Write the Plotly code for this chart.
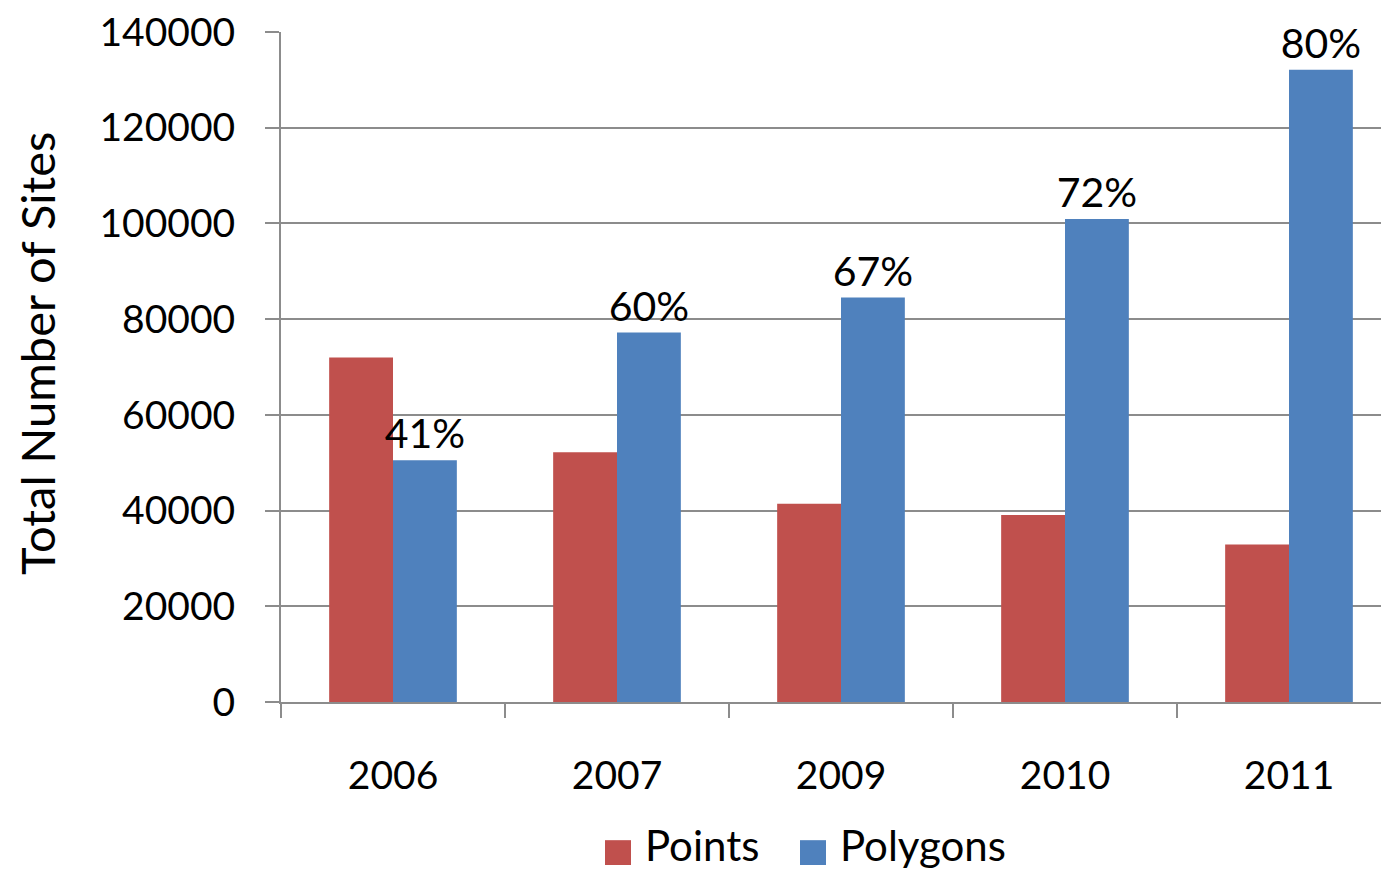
import plotly.graph_objects as go

years = ["2006", "2007", "2009", "2010", "2011"]
points = [72000, 52200, 41400, 39100, 32900]
polygons = [50500, 77200, 84500, 100900, 132100]
poly_pct = ["41%", "60%", "67%", "72%", "80%"]
series_names = ["Points", "Polygons"]
colors = ["#C0504D", "#4F81BD"]
y_ticks = [0, 20000, 40000, 60000, 80000, 100000, 120000, 140000]

# page has an 8px body margin; size the figure so it fits the 1389x874 window
OFF = 8
W, H = 1389 - OFF, 874 - OFF
L, R, T, B = 281 - OFF, 0, 28 - OFF, 172
FONT = "Lato"
FS = 39
GRID = "#8C8C8C"

pw, ph = W - L - R, H - T - B


def px_x(px):
    return (px - OFF - L) / pw


def px_y(py):
    return (T + ph - (py - OFF)) / ph


fig = go.Figure()
fig.add_trace(go.Bar(x=years, y=points, name=series_names[0], marker=dict(color=colors[0], line=dict(width=0)),
                     showlegend=False))
fig.add_trace(go.Bar(x=years, y=polygons, name=series_names[1], marker=dict(color=colors[1], line=dict(width=0)),
                     text=poly_pct, textposition="outside", constraintext="none", cliponaxis=False,
                     textfont=dict(family=FONT, size=41, color="black"), showlegend=False))

fig.update_layout(
    width=W, height=H,
    margin=dict(l=L, r=R, t=T, b=B),
    paper_bgcolor="white", plot_bgcolor="white",
    barmode="group", bargap=0.43, bargroupgap=0,
    font=dict(family=FONT, size=FS, color="black"),
    showlegend=False,
)
fig.update_xaxes(
    type="category", range=[-0.5, -0.5 + pw / 224.0],
    tickson="boundaries", ticks="outside", ticklen=14, tickwidth=2, tickcolor=GRID,
    showline=True, linecolor=GRID, linewidth=2, showgrid=False,
    ticklabelstandoff=38, tickfont=dict(family=FONT, size=FS, color="black"),
)
fig.update_yaxes(
    range=[0, 140000], tickvals=y_ticks, ticktext=[str(v) for v in y_ticks],
    ticks="outside", ticklen=14, tickwidth=2, tickcolor=GRID,
    showline=True, linecolor=GRID, linewidth=2,
    showgrid=True, gridcolor=GRID, gridwidth=2, zeroline=False,
    ticklabelstandoff=22, ticklabeloverflow="allow",
    tickfont=dict(family=FONT, size=FS, color="black"),
)

# y-axis title
fig.add_annotation(text="Total Number of Sites", xref="paper", yref="paper",
                   x=px_x(37), y=px_y(352), textangle=-90, showarrow=False,
                   xanchor="center", yanchor="middle", font=dict(family=FONT, size=47, color="black"))

# manual legend
leg = [(605, 643), (800, 838)]
for (sx, tx), name, col in zip(leg, series_names, colors):
    fig.add_shape(type="rect", xref="paper", yref="paper",
                  x0=px_x(sx), x1=px_x(sx + 26), y0=px_y(866), y1=px_y(841),
                  fillcolor=col, line=dict(width=0))
    fig.add_annotation(text=name, xref="paper", yref="paper", x=px_x(tx), y=px_y(846),
                       xanchor="left", yanchor="middle", showarrow=False,
                       font=dict(family=FONT, size=42, color="black"))

fig.write_html("out.html")
